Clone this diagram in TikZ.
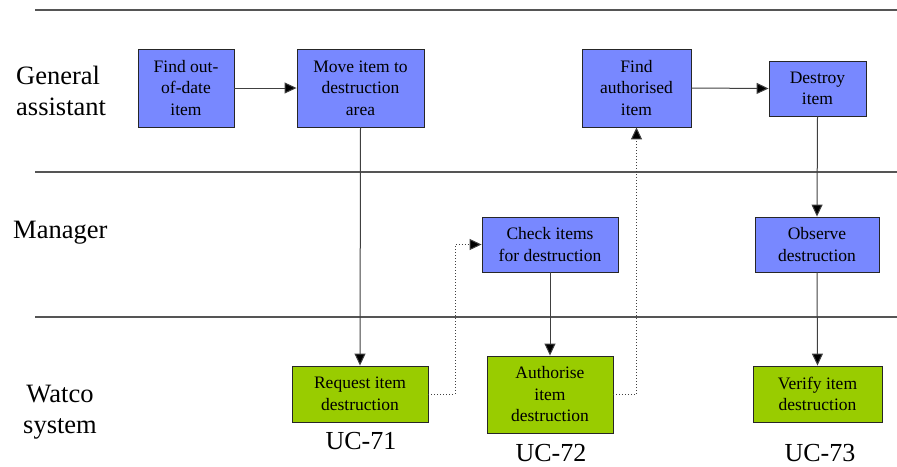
\documentclass[tikz,border=0pt]{standalone}
\usepackage{fontspec}
\setmainfont{Liberation Serif}
\usetikzlibrary{arrows.meta}
\definecolor{actblue}{RGB}{120,136,255}
\definecolor{actgreen}{RGB}{153,204,0}
\definecolor{lanegray}{RGB}{85,85,85}
\begin{document}
\begin{tikzpicture}[x=1pt,y=-1pt,
  actbox/.style={draw=black!85, line width=0.9pt, inner sep=0pt, align=center,
    font=\fontsize{17.5}{21.5}\selectfont},
  userbox/.style={actbox, fill=actblue},
  sysbox/.style={actbox, fill=actgreen},
  lanelabel/.style={inner sep=0pt, font=\fontsize{26.5}{31}\selectfont},
  uclabel/.style={inner sep=0pt, anchor=base, font=\fontsize{26}{30}\selectfont},
  flow/.style={draw=black!75, line width=1pt, -{Triangle[length=12pt,width=11pt,fill=black]}},
  msg/.style={flow, dotted}]
\useasboundingbox (0,0) rectangle (897,466);

% swimlane separators
\draw[lanegray, line width=1.3pt] (35,10) coordinate (l1a) -- (897,10) coordinate (l1b);
\draw[lanegray, line width=1.3pt] (35,172) coordinate (l2a) -- (897,172) coordinate (l2b);
\draw[lanegray, line width=1.3pt] (35,317) coordinate (l3a) -- (897,317) coordinate (l3b);

% lane names (base anchor sits on the last line)
\node[lanelabel, align=left, anchor=base west] (laneGA) at (16,115) {General\\assistant};
\node[lanelabel, anchor=base west] (laneM) at (13,238) {Manager};
\node[lanelabel, align=center, anchor=base] (laneW) at (60,433) {Watco\\system};

% activities
\node[userbox, minimum width=96pt, minimum height=78pt] (find) at (186,88) {Find out-\\of-date\\item};
\node[userbox, minimum width=127pt, minimum height=78pt] (move) at (360.5,88) {Move item to\\destruction\\area};
\node[userbox, minimum width=109pt, minimum height=78pt] (findauth) at (636.5,88) {Find\\authorised\\item};
\node[userbox, minimum width=97pt, minimum height=55pt] (destroy) at (817.5,88.5) {Destroy\\item};
\node[userbox, minimum width=136pt, minimum height=55pt] (check) at (550,244.5) {Check items\\for destruction};
\node[userbox, minimum width=124pt, minimum height=55pt] (observe) at (817,244.5) {Observe\\destruction};
\node[sysbox, minimum width=136pt, minimum height=56pt] (request) at (360,394) {Request item\\destruction};
\node[sysbox, minimum width=126pt, minimum height=77pt] (authorise) at (550,394.5) {Authorise\\item\\destruction};
\node[sysbox, minimum width=129pt, minimum height=56pt] (verify) at (817.5,394) {Verify item\\destruction};

% use case labels
\node[uclabel] (uc71) at (361,449) {UC-71};
\node[uclabel] (uc72) at (551,461) {UC-72};
\node[uclabel] (uc73) at (820,461) {UC-73};

% control flow
\draw[flow] (find.east) -- (move.west);
\draw[flow] (move.south) -- (request.north);
\draw[flow] (check.south) -- (authorise.north);
\draw[flow] (findauth.east) -- (destroy.west);
\draw[flow] (destroy.south) -- (observe.north);
\draw[flow] (observe.south) -- (verify.north);

% hand-offs between lanes
\draw[msg] (request.east) -- (455,394) |- (check.west);
\draw[msg] (authorise.east) -| (findauth.south);
\end{tikzpicture}
\end{document}
